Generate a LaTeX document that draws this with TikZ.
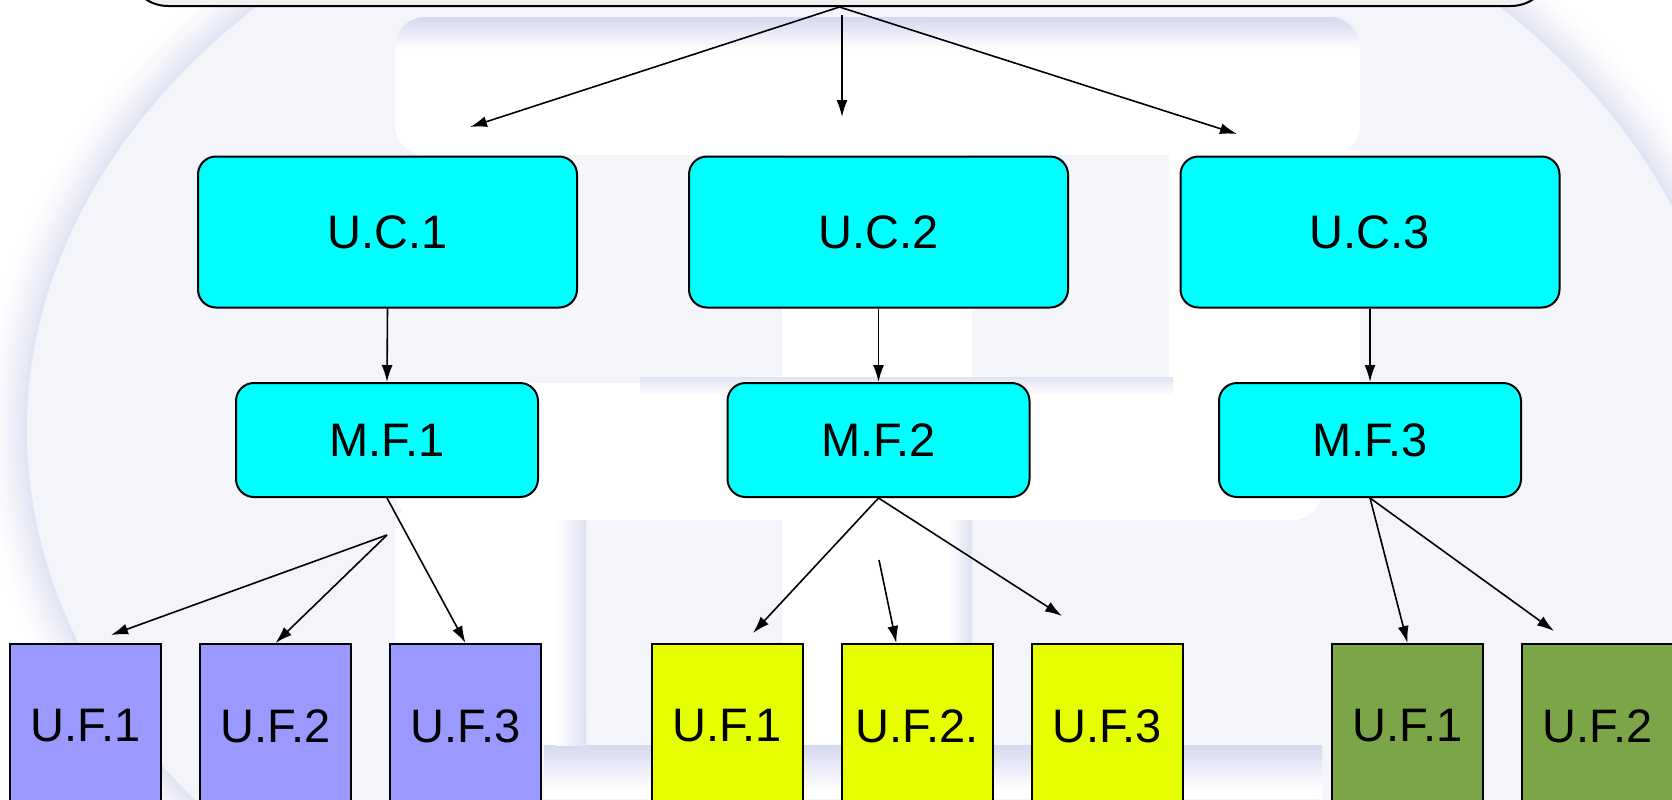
\documentclass[tikz,border=0pt]{standalone}
\usepackage{fontspec}
\setmainfont{Liberation Sans}
\usetikzlibrary{positioning,arrows.meta,calc}
\definecolor{ucyan}{HTML}{00FFFF}
\definecolor{ufpurple}{HTML}{9999FF}
\definecolor{ufyellow}{HTML}{E6FF00}
\definecolor{ufgreen}{HTML}{7CA547}
\definecolor{wmark}{HTML}{F4F5FB}
\definecolor{wshadow}{HTML}{D6D8EE}

\tikzset{
	topbox/.style={fill=gray!12, draw, line width=1pt, rounded corners=20pt, minimum width=711.5pt, minimum height=43pt},
	ucbox/.style={fill=ucyan, draw, line width=1pt, rounded corners=9pt, minimum width=189.5pt, minimum height=75.5pt, font=\fontsize{23.5}{27}\selectfont},
	mfbox/.style={ucbox, minimum width=151pt, minimum height=57pt},
	ufbox/.style={draw, line width=1pt, minimum width=75.5pt, minimum height=82pt, inner sep=0pt, font=\fontsize{23.5}{27}\selectfont},
	link/.style={-{Latex[length=8.5pt,width=5.5pt]}, line width=0.8pt}
}

\begin{document}
\begin{tikzpicture}[x=0.5pt, y=-0.5pt]
	\useasboundingbox (0,0) rectangle (1672,799);
	% watermark in the background
	\fill[wmark] (878,430) ellipse [x radius=425.5pt, y radius=310pt];
	\foreach \d/\o in {1/0.7,3/0.6,5/0.5,7/0.42,9/0.34,11/0.27,13/0.2,15/0.14,17/0.09,19/0.05,21/0.02}{
		\pgfmathsetmacro\rx{425.5+\d}
		\pgfmathsetmacro\ry{310+\d}
		\draw[wshadow, opacity=\o, line width=2pt] (878,430) ellipse [x radius=\rx pt, y radius=\ry pt];
	}
	\fill[white] (782,150) rectangle (972,760);
	\fill[white] (1169,150) rectangle (1360,383);
	\fill[white, rounded corners=15pt] (395,383) rectangle (1322,520);
	\fill[white, rounded corners=15pt] (395,500) rectangle (586,745);
	\fill[white] (544,745) rectangle (1322,799);
	\begin{scope}
		\clip[rounded corners=15pt] (395,17) rectangle (1360,155);
		\fill[white] (395,17) rectangle (1360,155);
		\shade[top color=wshadow, bottom color=white] (395,17) rectangle (1360,50);
	\end{scope}
	\shade[top color=wshadow!70, bottom color=white] (640,377) rectangle (1173,396);
	\shade[top color=wshadow, bottom color=white] (544,745) rectangle (1322,790);
	\shade[left color=white, right color=wshadow!80] (556,520) rectangle (586,745);
	\shade[left color=white, right color=wshadow!80] (948,520) rectangle (972,745);

	% boxes
	\node (top) [topbox] at (839.5,-37) {};
	\node (uc1) [ucbox] at (387.5,232) {U.C.1};
	\node (uc2) [ucbox] at (878.5,232) {U.C.2};
	\node (uc3) [ucbox] at (1370,232) {U.C.3};
	\node (mf1) [mfbox] at (387,440) {M.F.1};
	\node (mf2) [mfbox] at (878.5,440) {M.F.2};
	\node (mf3) [mfbox] at (1370,440) {M.F.3};
	\node (uf11) [ufbox, fill=ufpurple] at (85.5,726) {U.F.1};
	\node (uf12) [ufbox, fill=ufpurple, right=18.5pt of uf11] {U.F.2};
	\node (uf13) [ufbox, fill=ufpurple, right=18.5pt of uf12] {U.F.3};
	\node (uf21) [ufbox, fill=ufyellow] at (727,726) {U.F.1};
	\node (uf22) [ufbox, fill=ufyellow, right=18.5pt of uf21] {U.F.2.};
	\node (uf23) [ufbox, fill=ufyellow, right=18.5pt of uf22] {U.F.3};
	\node (uf31) [ufbox, fill=ufgreen] at (1407.5,726) {U.F.1};
	\node (uf32) [ufbox, fill=ufgreen, right=18.5pt of uf31] {U.F.2};

	% free ends of the arrows
	\coordinate (t1) at (470,127);
	\coordinate (s2) at (842,15);
	\coordinate (t2) at (842,117);
	\coordinate (t3) at (1237,134);
	\coordinate (fork1) at (387,535);
	\coordinate (e11) at (111,635);
	\coordinate (e21) at (753,633);
	\coordinate (e23) at (1062,616);
	\coordinate (s22) at (879,560);
	\coordinate (e32) at (1554,631);

	% arrows
	\draw[link] (top.south) -- (t1);
	\draw[link] (s2) -- (t2);
	\draw[link] (top.south) -- (t3);
	\draw[link] (uc1.south) -- (mf1.north);
	\draw[link] (uc2.south) -- (mf2.north);
	\draw[link] (uc3.south) -- (mf3.north);
	\draw[link] (mf1.south) -- (uf13.north);
	\draw[link] (fork1) -- (e11);
	\draw[link] (fork1) -- (uf12.north);
	\draw[link] (mf2.south) -- (e21);
	\draw[link] (mf2.south) -- (e23);
	\draw[link] (s22) -- (uf22.104);
	\draw[link] (mf3.south) -- (uf31.north);
	\draw[link] (mf3.south) -- (e32);
\end{tikzpicture}
\end{document}
